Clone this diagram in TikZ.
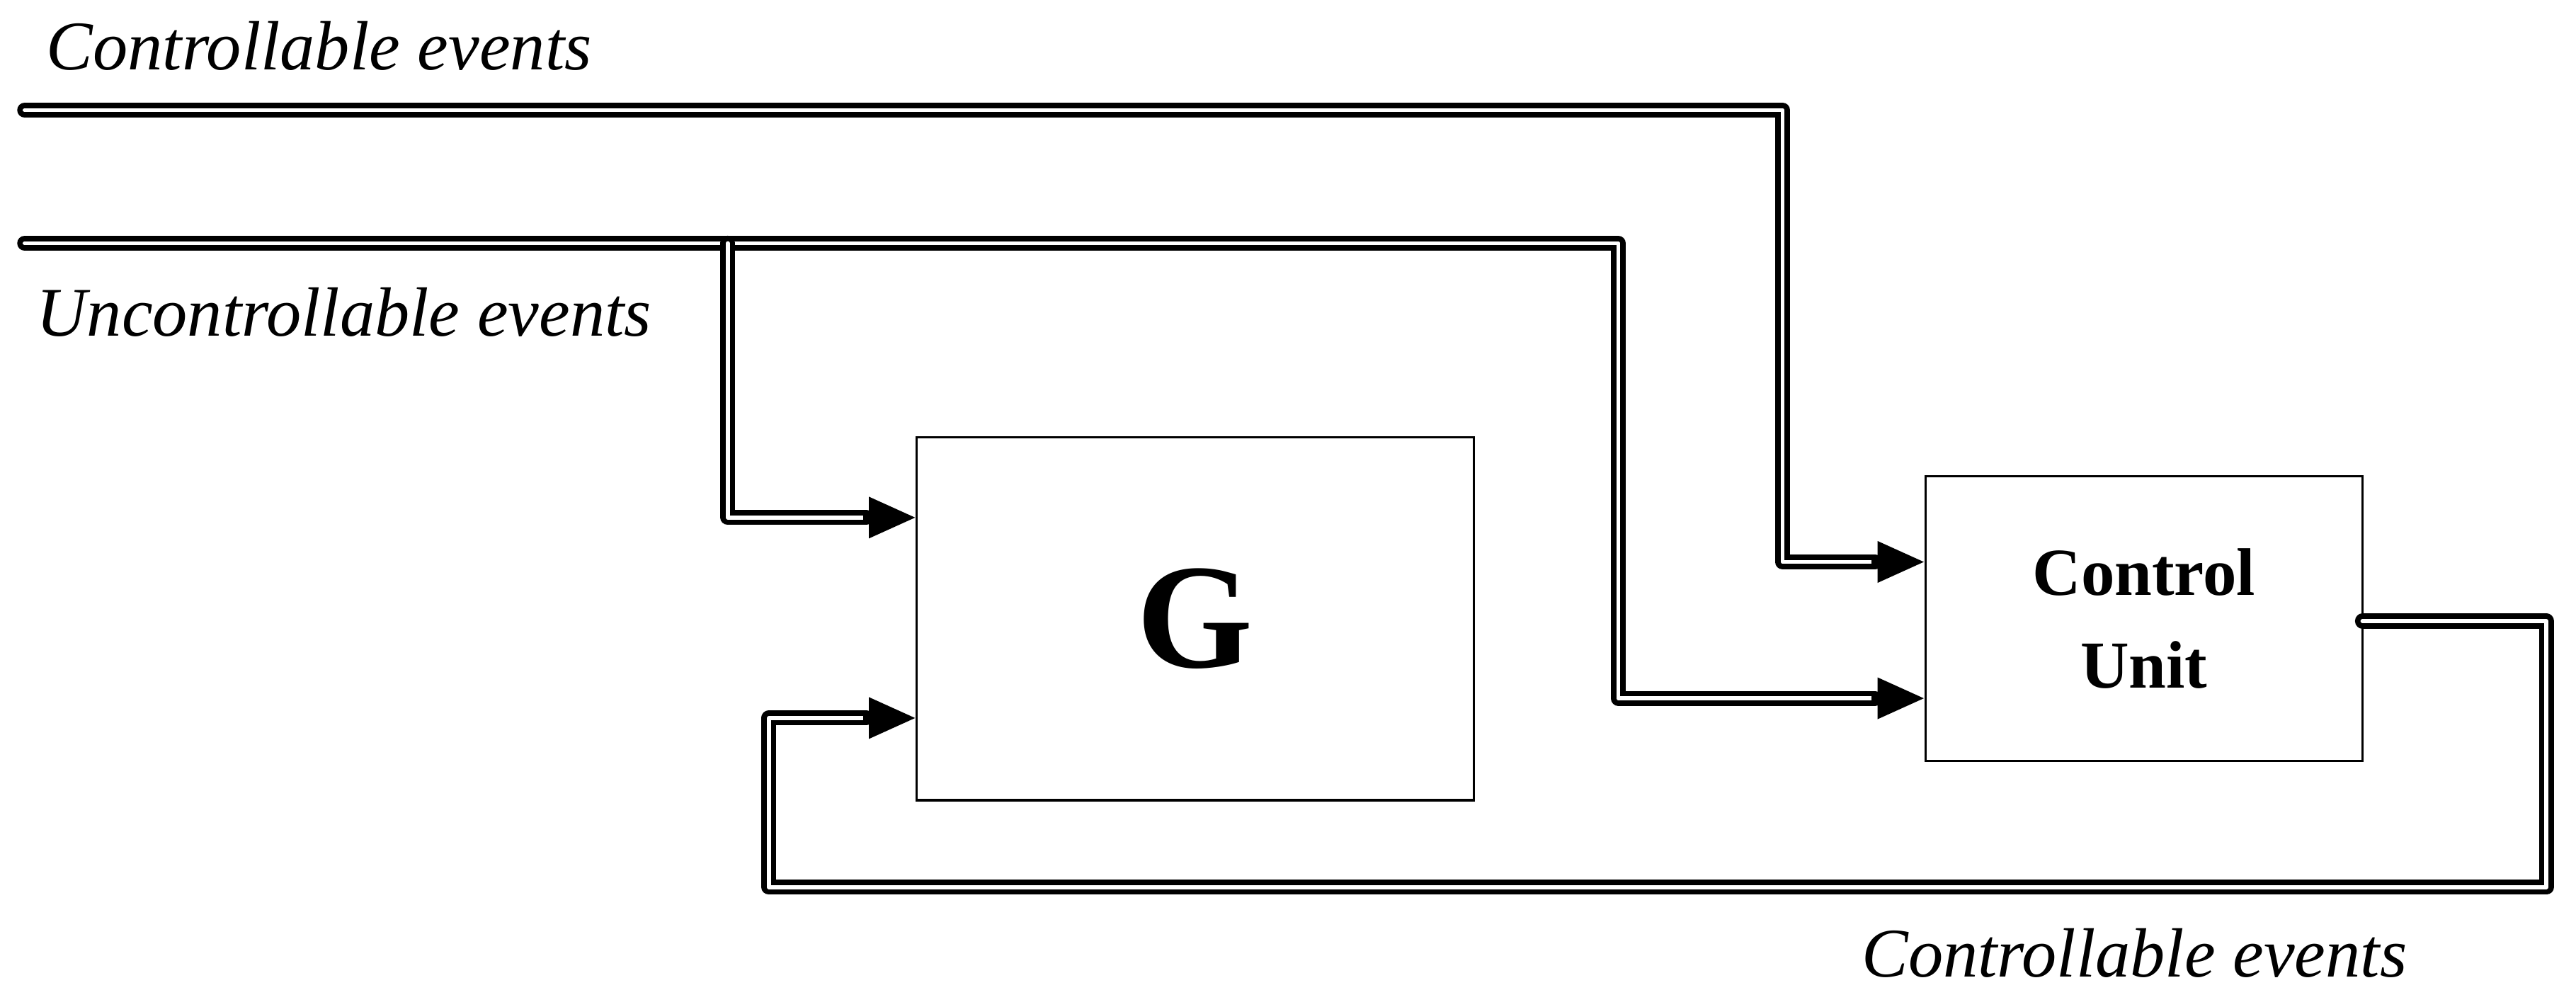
\documentclass[tikz,border=0pt]{standalone}
\usepackage{fontspec}
\setmainfont{Liberation Serif}
\usetikzlibrary{arrows.meta,calc}
\begin{document}
\begin{tikzpicture}[x=0.0232cm,y=-0.0232cm,
  wire/.style={draw,line width=2.2pt,double,double distance=1.6pt,line join=round,line cap=round},
  tip/.style={-{Triangle[length=0.66cm,width=0.56cm]},line width=3pt},
  box/.style={draw,line width=0.9pt,inner sep=0pt},
  lbl/.style={font=\itshape\fontsize{28}{32}\selectfont,anchor=west,inner sep=0pt}]
\useasboundingbox (0,0) rectangle (1568,612.5);
\node[box,minimum width=339*0.0232cm,minimum height=221*0.0232cm] (G) at (727.5,376.5) {};
\node[font=\bfseries\fontsize{60}{62}\selectfont] at (G.center) {G};
\node[box,minimum width=266*0.0232cm,minimum height=173*0.0232cm,align=center,
  font=\bfseries\fontsize{27}{37}\selectfont] (CU) at (1305,376.5) {Control\\Unit};
\node[lbl] (t1) at (28,28) {Controllable events};
\node[lbl] (t2) at (22,190) {Uncontrollable events};
\node[lbl] (t3) at (1133,580) {Controllable events};
\coordinate (a0) at (15,67); \coordinate (a1) at (1085,67); \coordinate (a2) at (1085,342);
\coordinate (b0) at (15,148); \coordinate (b1) at (985,148); \coordinate (b2) at (985,425);
\coordinate (c0) at (443,148); \coordinate (c1) at (443,315);
\coordinate (d0) at (1438,378); \coordinate (d1) at (1550,378); \coordinate (d2) at (1550,540);
\coordinate (d3) at (468,540); \coordinate (d4) at (468,437);
\path[wire] (a0) -- (a1) -- (a2) -- ($(CU.west|-a2)+(-30,0)$);
\path[wire] (b0) -- (b1) -- (b2) -- ($(CU.west|-b2)+(-30,0)$);
\path[wire] (c0) -- (c1) -- ($(G.west|-c1)+(-30,0)$);
\path[wire] (d0) -- (d1) -- (d2) -- (d3) -- (d4) -- ($(G.west|-d4)+(-30,0)$);
\draw[tip] ($(CU.west|-a2)+(-32,0)$) -- (CU.west|-a2);
\draw[tip] ($(CU.west|-b2)+(-32,0)$) -- (CU.west|-b2);
\draw[tip] ($(G.west|-c1)+(-32,0)$) -- (G.west|-c1);
\draw[tip] ($(G.west|-d4)+(-32,0)$) -- (G.west|-d4);
\end{tikzpicture}
\end{document}
